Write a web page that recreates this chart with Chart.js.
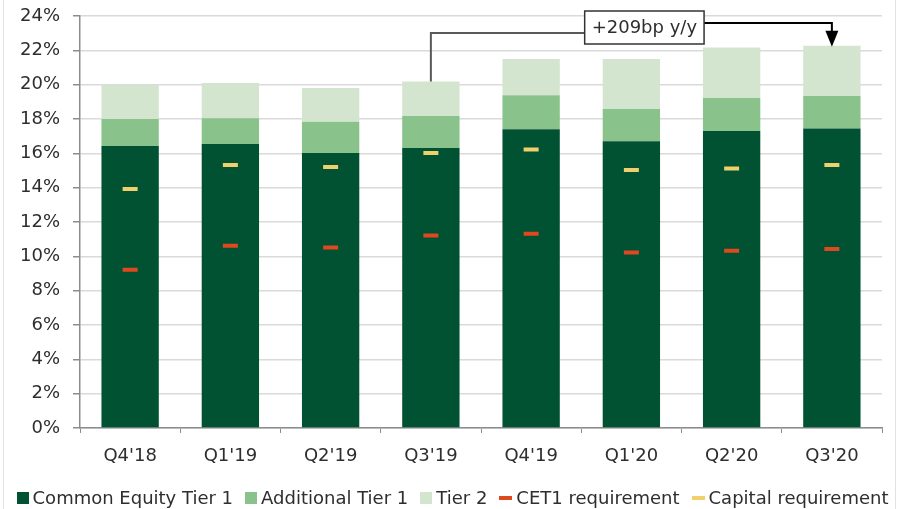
<!DOCTYPE html>
<html>
<head>
<meta charset="utf-8">
<script src="https://cdn.jsdelivr.net/npm/chart.js@4.4.0/dist/chart.umd.min.js"></script>
<style>
  html, body { margin: 0; padding: 0; background: #ffffff; }
  #wrap { position: relative; width: 905px; height: 509px; overflow: hidden; font-family: "DejaVu Sans", sans-serif; }
  #frame { position: absolute; left: 3px; top: 0; width: 893px; height: 509px; box-sizing: border-box;
           border-left: 1px solid #dbe7d9; border-right: 1px solid #dbe7d9; pointer-events: none; }
  #chart { position: absolute; left: 0; top: 0; }
  #legend { position: absolute; left: 0; right: 0; top: 487px; height: 22px; display: flex; justify-content: center;
            align-items: center; font-size: 18px; line-height: 22px; color: #2e2e2e; white-space: nowrap; }
  .item { display: flex; align-items: center; margin: 0 6px; }
  .sw { display: inline-block; margin-right: 4px; }
</style>
</head>
<body>
<div id="wrap">
  <canvas id="chart" width="905" height="509"></canvas>
  <div id="frame"></div>
  <div id="legend"></div>
</div>
<script>
// Quarters shown on the x axis
const categories = ["Q4'18", "Q1'19", "Q2'19", "Q3'19", "Q4'19", "Q1'20", "Q2'20", "Q3'20"];

// Capital stack, % of RWA
const cet1 = [16.42, 16.55, 16.02, 16.31, 17.41, 16.71, 17.30, 17.45];
const at1  = [1.58, 1.50, 1.82, 1.86, 1.98, 1.87, 1.92, 1.89];
const tier2 = [2.00, 2.04, 1.96, 2.01, 2.10, 2.91, 2.95, 2.93];

// Regulatory requirements, % of RWA
const cet1Requirement = [9.22, 10.62, 10.52, 11.22, 11.32, 10.23, 10.33, 10.43];
const capitalRequirement = [13.92, 15.32, 15.20, 16.02, 16.23, 15.03, 15.12, 15.32];

// Y axis ticks
const yTicks = [0, 2, 4, 6, 8, 10, 12, 14, 16, 18, 20, 22, 24];

// Year-on-year comparison for the callout
const deltaFrom = "Q3'19";
const deltaTo = "Q3'20";

const FONT = '"DejaVu Sans", sans-serif';
const TEXT = '#2e2e2e';

const totals = () => categories.map((_, i) => cet1[i] + at1[i] + tier2[i]);

// Callout box with connectors between the two compared quarters
const deltaNote = {
  id: 'deltaNote',
  afterDatasetsDraw(chart) {
    const { ctx, scales: { x, y }, chartArea } = chart;
    const t = totals();
    const i0 = categories.indexOf(deltaFrom);
    const i1 = categories.indexOf(deltaTo);
    const x0 = x.getPixelForValue(i0), y0 = y.getPixelForValue(t[i0]);
    const x1 = x.getPixelForValue(i1), y1 = y.getPixelForValue(t[i1]);
    const bp = Math.round((t[i1] - t[i0]) * 100);
    const label = '+' + bp + 'bp y/y';

    ctx.save();
    ctx.font = '18px ' + FONT;
    const tw = ctx.measureText(label).width;
    const boxW = tw + 14, boxH = 33;
    const cx = (x0 + x1) / 2 + 13;
    const bx = cx - boxW / 2, by = chartArea.top - 5;

    // left connector down to the earlier bar
    ctx.strokeStyle = '#595959';
    ctx.lineWidth = 2;
    ctx.beginPath();
    ctx.moveTo(bx, by + 22);
    ctx.lineTo(x0, by + 22);
    ctx.lineTo(x0, y0);
    ctx.stroke();

    // right connector with arrow onto the later bar
    const headH = 14, headW = 6.5;
    ctx.strokeStyle = '#000000';
    ctx.beginPath();
    ctx.moveTo(bx + boxW, by + 12);
    ctx.lineTo(x1, by + 12);
    ctx.lineTo(x1, y1 - headH);
    ctx.stroke();
    ctx.fillStyle = '#000000';
    ctx.beginPath();
    ctx.moveTo(x1 - headW, y1 - headH - 1);
    ctx.lineTo(x1 + headW, y1 - headH - 1);
    ctx.lineTo(x1, y1 + 1);
    ctx.closePath();
    ctx.fill();

    // box and text
    ctx.fillStyle = '#ffffff';
    ctx.fillRect(bx, by, boxW, boxH);
    ctx.strokeStyle = '#333333';
    ctx.lineWidth = 1.5;
    ctx.strokeRect(bx, by, boxW, boxH);
    ctx.fillStyle = TEXT;
    ctx.textAlign = 'center';
    ctx.textBaseline = 'middle';
    ctx.fillText(label, cx, by + boxH / 2 + 1);
    ctx.restore();
  }
};

const chart = new Chart(document.getElementById('chart'), {
  data: {
    labels: categories,
    datasets: [
      { type: 'bar', label: 'Common Equity Tier 1', data: cet1, backgroundColor: '#005232', stack: 'capital', order: 1 },
      { type: 'bar', label: 'Additional Tier 1', data: at1, backgroundColor: '#8ac28b', stack: 'capital', order: 1 },
      { type: 'bar', label: 'Tier 2', data: tier2, backgroundColor: '#d3e5cf', stack: 'capital', order: 1 },
      { type: 'line', label: 'CET1 requirement', data: cet1Requirement, stack: 'cet1req', order: 0,
        showLine: false, pointStyle: 'line', pointRadius: 7.5, pointHoverRadius: 7.5,
        borderColor: '#e0491f', backgroundColor: '#e0491f', pointBorderWidth: 4 },
      { type: 'line', label: 'Capital requirement', data: capitalRequirement, stack: 'capreq', order: 0,
        showLine: false, pointStyle: 'line', pointRadius: 7.5, pointHoverRadius: 7.5,
        borderColor: '#f0d06c', backgroundColor: '#f0d06c', pointBorderWidth: 4 }
    ]
  },
  options: {
    responsive: false,
    animation: false,
    devicePixelRatio: 1,
    layout: { padding: { left: 0, right: 23, top: 16, bottom: 31 } },
    datasets: { bar: { barPercentage: 0.572, categoryPercentage: 1 } },
    plugins: { legend: { display: false }, tooltip: { enabled: false } },
    scales: {
      x: {
        stacked: true,
        grid: { drawOnChartArea: false, drawTicks: true, tickLength: 5, tickColor: '#8c8c8c', offset: true },
        border: { color: '#8c8c8c', width: 1.5 },
        ticks: { color: TEXT, font: { family: FONT, size: 18 }, padding: 13, maxRotation: 0 },
        afterFit(s) { s.height = 50; }
      },
      y: {
        stacked: true,
        min: 0, max: 24,
        afterBuildTicks(s) { s.ticks = yTicks.map(v => ({ value: v })); },
        grid: { color: '#dadada', lineWidth: 1.5, tickLength: 7, tickColor: '#8c8c8c' },
        border: { color: '#8c8c8c', width: 1.5 },
        ticks: { color: TEXT, font: { family: FONT, size: 18 }, padding: 13, callback: v => v + '%' },
        afterFit(s) { s.width = 80; s.paddingTop = 0; s.paddingBottom = 0; }
      }
    }
  },
  plugins: [deltaNote]
});

// Legend built from the chart's datasets
const legend = document.getElementById('legend');
chart.data.datasets.forEach(ds => {
  const item = document.createElement('span');
  item.className = 'item';
  const sw = document.createElement('span');
  sw.className = 'sw';
  if (ds.type === 'bar') {
    sw.style.width = '12px'; sw.style.height = '12px'; sw.style.background = ds.backgroundColor;
  } else {
    sw.style.width = '13px'; sw.style.height = '4px'; sw.style.background = ds.borderColor;
  }
  item.appendChild(sw);
  item.appendChild(document.createTextNode(ds.label));
  legend.appendChild(item);
});
</script>
</body>
</html>
